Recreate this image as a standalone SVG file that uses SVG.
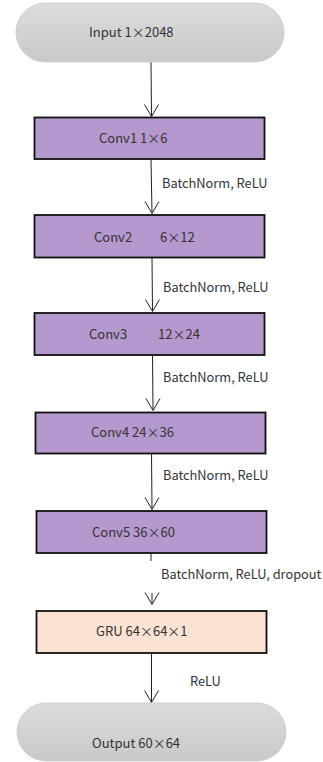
<svg xmlns="http://www.w3.org/2000/svg" width="323" height="762" viewBox="0 0 323 762">
<defs>
<linearGradient id="g" x1="0" y1="0" x2="0" y2="1">
<stop offset="0" stop-color="#dcdcdc"/>
<stop offset="1" stop-color="#c9c9c9"/>
</linearGradient>
</defs>
<style>
.t{font-family:"Noto Sans CJK SC","Noto Sans",sans-serif;font-size:13px;fill:#333}
.l{font-family:"Noto Sans CJK SC","Noto Sans",sans-serif;font-size:12.8px;fill:#333}
.c{fill:#b598cd;stroke:#111;stroke-width:1.8}
.s{fill:url(#g);stroke:#cfcfcf;stroke-width:1}
.e{stroke:#222;stroke-width:1;fill:none}
</style>
<rect width="323" height="762" fill="#fff"/>
<g id="edges">
<line class="e" x1="151" y1="62" x2="151.5" y2="116"/>
<path class="e" d="M144.5,104.5 L151.5,116.5 L158.5,104.5"/>
<line class="e" x1="151" y1="159" x2="152" y2="213"/>
<path class="e" d="M145,201.5 L152,213.5 L159,201.5"/>
<line class="e" x1="152" y1="258" x2="152.5" y2="311"/>
<path class="e" d="M145.5,299.5 L152.5,311.5 L159.5,299.5"/>
<line class="e" x1="152.5" y1="355" x2="153" y2="410"/>
<path class="e" d="M146,398.5 L153,410.5 L160,398.5"/>
<line class="e" x1="151.5" y1="453" x2="152" y2="509"/>
<path class="e" d="M145,497.5 L152,509.5 L159,497.5"/>
<line class="e" x1="151" y1="553" x2="151" y2="561"/>
<line class="e" x1="152" y1="593" x2="152" y2="604"/>
<path class="e" d="M145,592.5 L152,604.5 L159,592.5"/>
<line class="e" x1="151.5" y1="653" x2="151.5" y2="702"/>
<path class="e" d="M144.5,690.5 L151.5,702.5 L158.5,690.5"/>
<text class="l" x="162" y="188">BatchNorm, ReLU</text>
<text class="l" x="163" y="292">BatchNorm, ReLU</text>
<text class="l" x="163" y="382">BatchNorm, ReLU</text>
<text class="l" x="163" y="480">BatchNorm, ReLU</text>
<text class="l" x="161" y="579">BatchNorm, ReLU, dropout</text>
<text class="l" x="190" y="686">ReLU</text>
</g>
<g id="input">
<rect class="s" x="16" y="3" width="268" height="59" rx="29.5"/>
<text class="t" x="89" y="37">Input 1×2048</text>
</g>
<g id="conv1">
<rect class="c" x="34.5" y="117.5" width="230" height="41.5"/>
<text class="t" x="99" y="143">Conv1 1×6</text>
</g>
<g id="conv2">
<rect class="c" x="34.5" y="215" width="230" height="42.5"/>
<text class="t" x="94" y="242">Conv2</text>
<text class="t" x="160" y="242">6×12</text>
</g>
<g id="conv3">
<rect class="c" x="34.5" y="313" width="230" height="42"/>
<text class="t" x="89" y="339">Conv3</text>
<text class="t" x="158" y="339">12×24</text>
</g>
<g id="conv4">
<rect class="c" x="35.5" y="412.5" width="230" height="41"/>
<text class="t" x="91" y="437">Conv4 24×36</text>
</g>
<g id="conv5">
<rect class="c" x="36.5" y="511" width="230" height="42"/>
<text class="t" x="92" y="537">Conv5 36×60</text>
</g>
<g id="gru">
<rect x="36.5" y="611" width="230" height="42" fill="#fbe3d4" stroke="#111" stroke-width="1.8"/>
<text class="t" x="96" y="636">GRU 64×64×1</text>
</g>
<g id="output">
<rect class="s" x="17" y="703" width="269" height="58" rx="29"/>
<text class="t" x="92" y="748">Output 60×64</text>
</g>
</svg>
